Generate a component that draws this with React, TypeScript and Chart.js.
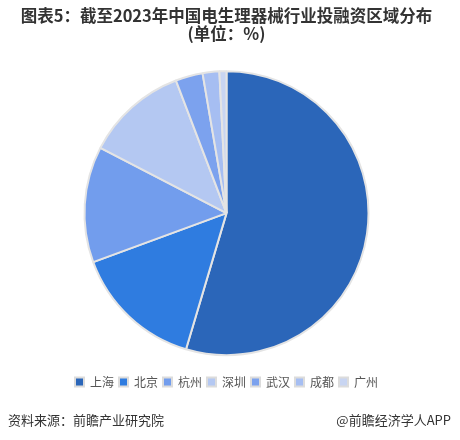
import React, { useEffect, useRef } from "react";
import { Chart, registerables } from "chart.js";

Chart.register(...registerables);

const categories = ["上海", "北京", "杭州", "深圳", "武汉", "成都", "广州"];
const shares = [54.6, 14.8, 13.2, 11.6, 3.1, 1.9, 0.8];
const colors = ["#2b66b9", "#2f7ce0", "#729ded", "#b4c8f2", "#7ca2ee", "#a6bef2", "#c8d5f2"];
const titleLines = ["图表5：截至2023年中国电生理器械行业投融资区域分布", "(单位：%)"];
const sourceText = "资料来源：前瞻产业研究院";
const brandText = "@前瞻经济学人APP";

const FONT = '"Noto Sans CJK SC", "Noto Sans", sans-serif';

const footerPlugin = {
  id: "footerText",
  afterDraw(chart: any) {
    const ctx = chart.ctx;
    ctx.save();
    ctx.font = `13px ${FONT}`;
    ctx.fillStyle = "#333";
    ctx.textBaseline = "middle";
    ctx.textAlign = "left";
    ctx.fillText(sourceText, 8, 420);
    ctx.textAlign = "right";
    ctx.fillText(brandText, 451, 420);
    ctx.restore();
  },
};

export default function App() {
  const ref = useRef<HTMLCanvasElement>(null);
  useEffect(() => {
    if (!ref.current) return;
    const chart = new Chart(ref.current, {
      type: "pie",
      data: {
        labels: categories,
        datasets: [
          {
            data: shares,
            backgroundColor: colors,
            borderColor: "#e4e4e4",
            borderWidth: 2,
            radius: 142,
          },
        ],
      },
      options: {
        animation: false,
        responsive: false,
        layout: { padding: { top: 0, bottom: 42, left: 0, right: 7 } },
        plugins: {
          title: {
            display: true,
            text: titleLines,
            color: "#333",
            font: { family: FONT, size: 16.5, weight: "bold", lineHeight: 1.1 },
            padding: { top: 7, bottom: 12 },
          },
          legend: {
            position: "bottom",
            labels: {
              color: "#555",
              font: { family: FONT, size: 12 },
              boxWidth: 9,
              boxHeight: 9,
              padding: 5,
              generateLabels(chart: any) {
                const base = Chart.overrides.pie.plugins.legend.labels.generateLabels(chart);
                return base.map((l: any) => ({ ...l, strokeStyle: "#dcdcdc", lineWidth: 2 }));
              },
            },
          },
          tooltip: { enabled: false },
        },
      },
      plugins: [footerPlugin],
    } as any);
    return () => chart.destroy();
  }, []);
  return (
    <div style={{ position: "fixed", left: 0, top: 0, width: 460, height: 440, background: "#fff" }}>
      <canvas ref={ref} width={460} height={440} style={{ width: 460, height: 440 }} />
    </div>
  );
}
